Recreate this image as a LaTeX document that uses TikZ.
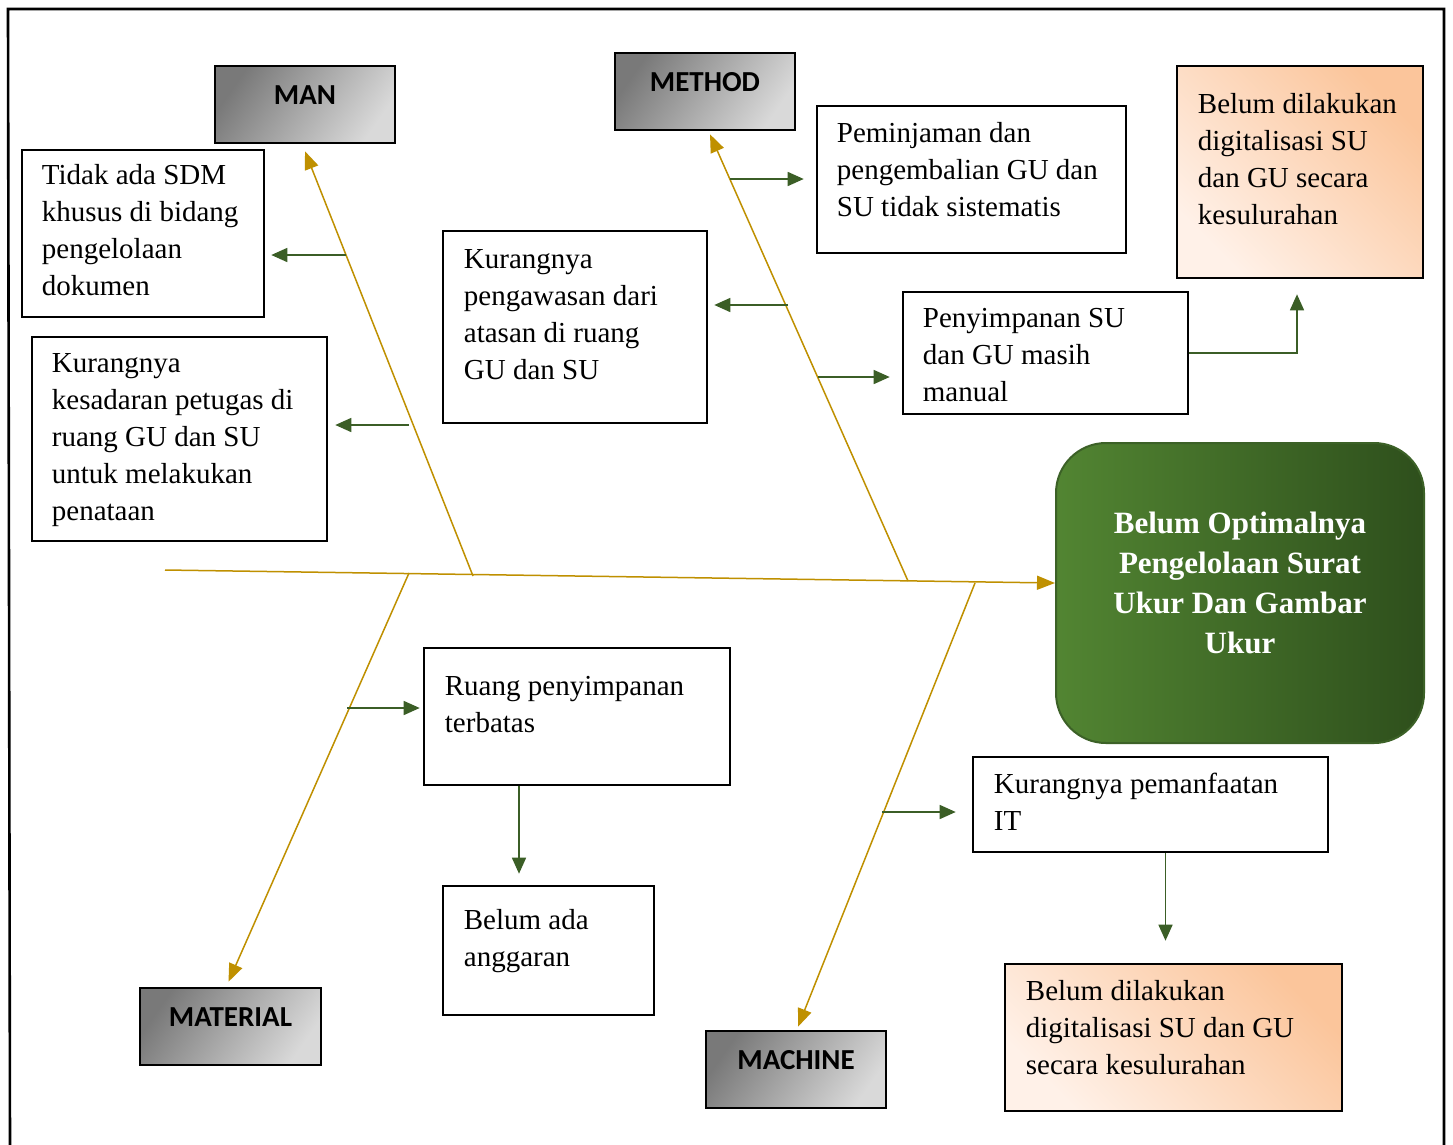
\documentclass[tikz,border=0pt]{standalone}
\usepackage{fontspec}
\setmainfont{Liberation Serif}
\newfontfamily\lblfont{Carlito}
\usetikzlibrary{arrows.meta,calc,shadings}
\definecolor{gold}{HTML}{BF9000}
\definecolor{garr}{HTML}{3B5E26}
\definecolor{peach}{HTML}{FBC59B}
\definecolor{peachl}{HTML}{FFF1E8}
\definecolor{gdark}{HTML}{2E4F1C}
\definecolor{glight}{HTML}{528532}
\definecolor{gborder}{HTML}{3C6127}
\newcommand{\tl}[1]{\begin{tabular}[t]{@{}l@{}}#1\end{tabular}}
\newcommand{\tc}[1]{\begin{tabular}[t]{@{}c@{}}#1\end{tabular}}
\begin{document}
\begin{tikzpicture}[x=1pt,y=-1pt,
  box/.style={draw=black,line width=2.6pt,fill=white,inner sep=0pt},
  obox/.style={draw=black,line width=2.6pt,inner sep=0pt,top color=peach,bottom color=peachl,shading angle=-45},
  lbox/.style={draw=black,line width=2.6pt,inner sep=0pt,minimum width=180,minimum height=77,top color=gray!95!black,bottom color=gray!30,shading angle=55},
  lbl/.style={font=\lblfont\fontsize{29}{34}\selectfont\bfseries,inner sep=0pt},
  txt/.style={anchor=base west,inner sep=0pt,font=\fontsize{29}{37}\selectfont},
  bone/.style={draw=gold,line width=1.5pt,-{Triangle[length=18pt,width=14pt]}},
  garrow/.style={draw=garr,line width=1.5pt,-{Triangle[length=16pt,width=14pt]}}]
\useasboundingbox (0,0) rectangle (1453,1144);
\fill[white] (0,0) rectangle (1453,1144);
% outer frame
\draw[line width=2.6pt] (10,1146) -- (8,9) -- (1444,9) -- (1444,1146);

% category labels
\node[lbox] (man) at (305,104.5) {};
\node[lbl] (mant) at ($(man.north)+(0,30)$) {MAN};
\node[lbox] (method) at (705,91.5) {};
\node[lbl] (methodt) at ($(method.north)+(0,30)$) {METHOD};
\node[lbox,minimum width=181] (material) at (230.5,1026.5) {};
\node[lbl] (materialt) at ($(material.north)+(0,30)$) {MATERIAL};
\node[lbox] (machine) at (796,1069.5) {};
\node[lbl] (machinet) at ($(machine.north)+(0,30)$) {MACHINE};

% cause boxes
\node[box,minimum width=242,minimum height=167] (sdm) at (143,233.5) {};
\node[txt] (sdmt) at ($(sdm.north west)+(21,36)$) {\tl{Tidak ada SDM\\khusus di bidang\\pengelolaan\\dokumen}};
\node[box,minimum width=295,minimum height=204] (kes) at (179.5,439) {};
\node[txt] (kest) at ($(kes.north west)+(21,37)$) {\tl{Kurangnya\\kesadaran petugas di\\ruang GU dan SU\\untuk melakukan\\penataan}};
\node[box,minimum width=264,minimum height=192] (awas) at (575,327) {};
\node[txt] (awast) at ($(awas.north west)+(22,39)$) {\tl{Kurangnya\\pengawasan dari\\atasan di ruang\\GU dan SU}};
\node[box,minimum width=309,minimum height=147] (pinjam) at (971.5,179.5) {};
\node[txt] (pinjamt) at ($(pinjam.north west)+(21,38)$) {\tl{Peminjaman dan\\pengembalian GU dan\\SU tidak sistematis}};
\node[obox,minimum width=246,minimum height=212] (digi1) at (1300,172) {};
\node[txt] (digi1t) at ($(digi1.north west)+(22,49)$) {\tl{Belum dilakukan\\digitalisasi SU\\dan GU secara\\kesulurahan}};
\node[box,minimum width=285,minimum height=122] (simpan) at (1045.5,353) {};
\node[txt] (simpant) at ($(simpan.north west)+(21,37)$) {\tl{Penyimpanan SU\\dan GU masih\\manual}};
\node[box,minimum width=306,minimum height=137] (ruang) at (577,716.5) {};
\node[txt] (ruangt) at ($(ruang.north west)+(22,49)$) {\tl{Ruang penyimpanan\\terbatas}};
\node[box,minimum width=211,minimum height=129] (angg) at (548.5,950.5) {};
\node[txt] (anggt) at ($(angg.north west)+(22,45)$) {\tl{Belum ada\\anggaran}};
\node[box,minimum width=355,minimum height=95] (it) at (1150.5,804.5) {};
\node[txt] (itt) at ($(it.north west)+(22,38)$) {\tl{Kurangnya pemanfaatan\\IT}};
\node[obox,minimum width=337,minimum height=147] (digi2) at (1173.5,1037.5) {};
\node[txt] (digi2t) at ($(digi2.north west)+(22,38)$) {\tl{Belum dilakukan\\digitalisasi SU dan GU\\secara kesulurahan}};

% effect box
\node[draw=gborder,line width=2pt,rounded corners=50pt,minimum width=368,minimum height=300,left color=glight,right color=gdark,inner sep=0pt] (effect) at (1240,593) {};
\node[text=white,inner sep=0pt,font=\fontsize{31}{40}\selectfont\bfseries,anchor=base] (effectt) at (1240,533) {\tc{Belum Optimalnya\\Pengelolaan Surat\\Ukur Dan Gambar\\Ukur}};

% spine and bones
\coordinate (tail) at (165,570);
\coordinate (jman) at (473,576);
\coordinate (jmeth) at (908,581);
\coordinate (jmat) at (409,573);
\coordinate (jmach) at (975,583);
\draw[bone] (tail) -- ($(effect.west)+(0,-10)$);
\draw[bone] (jman) -- ($(man.south)+(0,7)$);
\draw[bone] (jmeth) -- ($(method.south)+(5,3)$);
\draw[bone] (jmat) -- ($(material.north)+(-2,-5)$);
\draw[bone] (jmach) -- ($(machine.north)+(2,-3)$);

% sub-cause arrows
\coordinate (b1) at (346,255);
\coordinate (b2) at (409,425);
\coordinate (b3) at (730,179);
\coordinate (b4) at (788,305);
\coordinate (b5) at (818,377);
\coordinate (b6) at (347,708);
\coordinate (b7) at (882,812);
\draw[garrow,shorten >=6pt] (b1) -- (b1 -| sdm.east);
\draw[garrow,shorten >=7pt] (b2) -- (b2 -| kes.east);
\draw[garrow,shorten >=12pt] (b3) -- (b3 -| pinjam.west);
\draw[garrow,shorten >=6pt] (b4) -- (b4 -| awas.east);
\draw[garrow,shorten >=12pt] (b5) -- (b5 -| simpan.west);
\draw[garrow,shorten >=3pt] (b6) -- (b6 -| ruang.west);
\draw[garrow,shorten >=16pt] (b7) -- (b7 -| it.west);
\draw[garrow,shorten >=15pt] (simpan.east) -| ([xshift=-3pt]digi1.south);
\draw[garrow,shorten >=11pt] ([xshift=-58pt]ruang.south) -- ([xshift=-58pt]ruang.south |- angg.north);
\draw[garrow,shorten >=22pt] ([xshift=15pt]it.south) -- ([xshift=15pt]it.south |- digi2.north);
\end{tikzpicture}
\end{document}
